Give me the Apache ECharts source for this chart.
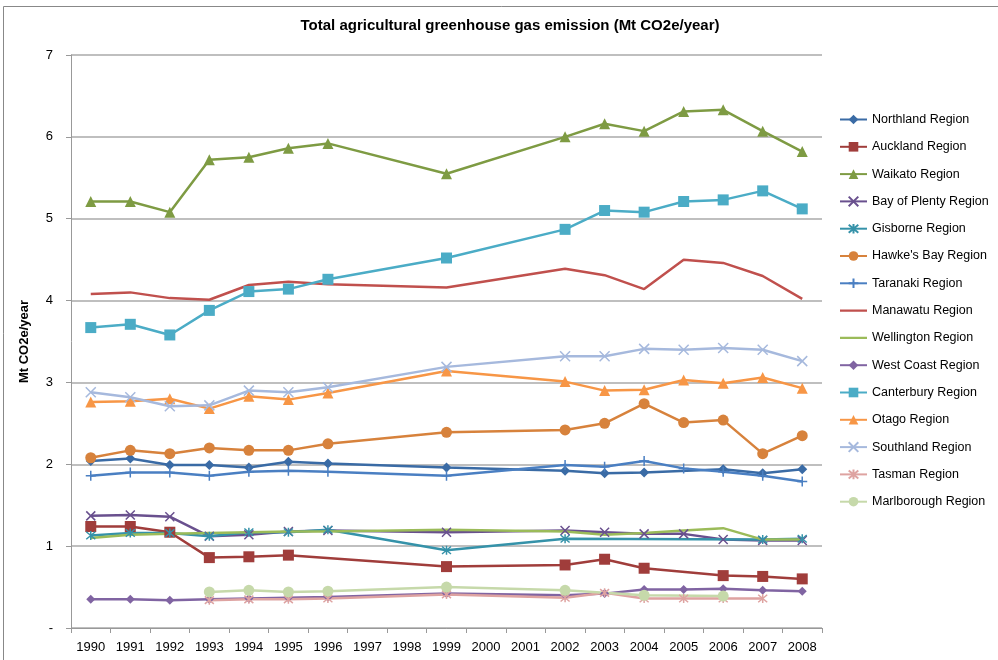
<!DOCTYPE html>
<html><head><meta charset="utf-8">
<script src="https://cdn.jsdelivr.net/npm/echarts@6/dist/echarts.min.js"></script>
<style>html,body{margin:0;padding:0;background:#fff}#c{width:998px;height:660px}</style>
</head><body><div id="c"></div>
<script>
var years = ['1990','1991','1992','1993','1994','1995','1996','1997','1998','1999','2000','2001','2002','2003','2004','2005','2006','2007','2008'];
var yTicks = [0,1,2,3,4,5,6,7];
var northland   = [2.04,2.07,1.99,1.99,1.96,2.03,2.01,null,null,1.96,null,null,1.92,1.89,1.90,null,1.94,1.89,1.94];
var auckland    = [1.24,1.24,1.17,0.86,0.87,0.89,null,null,null,0.75,null,null,0.77,0.84,0.73,null,0.64,0.63,0.60];
var waikato     = [5.21,5.21,5.08,5.72,5.75,5.86,5.92,null,null,5.55,null,null,6.00,6.16,6.07,6.31,6.33,6.07,5.82];
var bayOfPlenty = [1.37,1.38,1.36,1.12,1.14,1.18,1.19,null,null,1.17,null,null,1.19,1.17,1.15,1.15,1.08,1.07,1.07];
var gisborne    = [1.13,1.16,1.16,1.12,1.17,1.17,1.20,null,null,0.95,null,null,1.09,null,null,null,null,1.08,1.09];
var hawkesBay   = [2.08,2.17,2.13,2.20,2.17,2.17,2.25,null,null,2.39,null,null,2.42,2.50,2.74,2.51,2.54,2.13,2.35];
var taranaki    = [1.86,1.90,1.90,1.86,1.91,1.92,1.91,null,null,1.86,null,null,1.99,1.97,2.04,1.95,1.91,1.86,1.79];
var manawatu    = [4.08,4.10,4.03,4.01,4.19,4.23,4.20,null,null,4.16,null,null,4.39,4.31,4.14,4.50,4.46,4.30,4.02];
var wellington  = [1.10,1.14,1.15,1.16,1.17,1.18,1.18,null,null,1.20,null,null,1.18,1.14,1.16,1.19,1.22,1.08,1.08];
var westCoast   = [0.35,0.35,0.34,0.35,0.36,0.37,0.38,null,null,0.42,null,null,0.40,0.42,0.47,0.47,0.48,0.46,0.45];
var canterbury  = [3.67,3.71,3.58,3.88,4.11,4.14,4.26,null,null,4.52,null,null,4.87,5.10,5.08,5.21,5.23,5.34,5.12];
var otago       = [2.76,2.77,2.80,2.68,2.83,2.79,2.87,null,null,3.14,null,null,3.01,2.90,2.91,3.03,2.99,3.06,2.93];
var southland   = [2.88,2.82,2.71,2.72,2.90,2.88,2.94,null,null,3.19,null,null,3.32,3.32,3.41,3.40,3.42,3.40,3.26];
var tasman      = [null,null,null,0.34,0.35,0.35,0.36,null,null,0.41,null,null,0.37,0.43,0.36,0.36,0.36,0.36,null];
var marlborough = [null,null,null,0.44,0.46,0.44,0.45,null,null,0.50,null,null,0.46,null,0.40,null,0.39,null,null];

var X = 'path://M0,0L10,10M10,0L0,10';
var AST = 'path://M0,0L10,10M10,0L0,10M5,-1L5,11';
var PLUS = 'path://M5,0L5,10M0,5L10,5';
var LINE_ICON = 'path://M0,0L0.01,0L0.01,12L0,12Z M0,4.8L27,4.8L27,7.2L0,7.2Z';

var defs = [
  ['Northland Region', northland, '#3A6BA5', 'diamond', 10],
  ['Auckland Region', auckland, '#A03D3B', 'rect', 11],
  ['Waikato Region', waikato, '#7E9B43', 'triangle', 11],
  ['Bay of Plenty Region', bayOfPlenty, '#69508E', X, 9],
  ['Gisborne Region', gisborne, '#3592A9', AST, 9],
  ['Hawke\'s Bay Region', hawkesBay, '#D7823C', 'circle', 11],
  ['Taranaki Region', taranaki, '#4A7FC2', PLUS, 10],
  ['Manawatu Region', manawatu, '#C0504D', 'none', 0],
  ['Wellington Region', wellington, '#9BBB59', 'none', 0],
  ['West Coast Region', westCoast, '#8064A2', 'diamond', 9],
  ['Canterbury Region', canterbury, '#4BACC6', 'rect', 11],
  ['Otago Region', otago, '#F79646', 'triangle', 11],
  ['Southland Region', southland, '#A6B9DD', X, 10],
  ['Tasman Region', tasman, '#DEA3A1', AST, 9],
  ['Marlborough Region', marlborough, '#C6D9AA', 'circle', 11]
];

var series = defs.map(function(d){
  var isPath = d[3].indexOf('path://') === 0;
  return {
    name: d[0], type: 'line', data: d[1], connectNulls: true,
    symbol: d[3], symbolSize: d[4], showSymbol: d[3] !== 'none',
    lineStyle: {color: d[2], width: 2.5},
    itemStyle: {color: isPath ? 'rgba(0,0,0,0)' : d[2], borderColor: d[2], borderWidth: isPath ? 1.5 : 0},
    emphasis: {disabled: true}, animation: false
  };
});

var legendData = defs.map(function(d){
  if (d[3] === 'none') return {name: d[0], icon: LINE_ICON, itemStyle: {color: d[2], borderWidth: 0}};
  return {name: d[0]};
});

var chart = echarts.init(document.getElementById('c'), null, {renderer: 'canvas'});
chart.setOption({
  animation: false,
  backgroundColor: '#fff',
  textStyle: {fontFamily: 'Liberation Sans, Arial, sans-serif'},
  title: {text: 'Total agricultural greenhouse gas emission (Mt CO2e/year)', left: 505, textAlign: 'center', top: 13,
    textStyle: {fontSize: 15, fontWeight: 'bold', color: '#000'}},
  graphic: [{type: 'rect', shape: {x: 3.5, y: 6.5, width: 1000, height: 660}, style: {fill: 'none', stroke: '#888', lineWidth: 1}}],
  legend: {orient: 'vertical', left: 839, top: 113, padding: 0, itemWidth: 27, itemHeight: 12, itemGap: 14.3,
    textStyle: {fontSize: 12.5, color: '#000'},
    data: legendData},
  grid: {left: 71, right: 176, top: 55, bottom: 32},
  xAxis: {type: 'category', data: years, boundaryGap: true,
    axisLine: {lineStyle: {color: '#999', width: 1}},
    axisTick: {show: true, alignWithLabel: false, length: 5, lineStyle: {color: '#999'}},
    axisLabel: {color: '#000', fontSize: 13, margin: 13, interval: 0}},
  yAxis: {type: 'value', min: yTicks[0], max: yTicks[yTicks.length-1], interval: 1,
    name: 'Mt CO2e/year', nameLocation: 'middle', nameGap: 40, nameRotate: 90,
    nameTextStyle: {fontSize: 13, fontWeight: 'bold', color: '#000'},
    axisLine: {show: true, lineStyle: {color: '#999'}},
    axisTick: {show: true, length: 5, lineStyle: {color: '#999'}},
    axisLabel: {color: '#000', fontSize: 13, margin: 18, formatter: function(v){return v === 0 ? '-' : String(v);}},
    splitLine: {lineStyle: {color: '#aaa', width: 1.5}}},
  series: series
});
</script></body></html>
